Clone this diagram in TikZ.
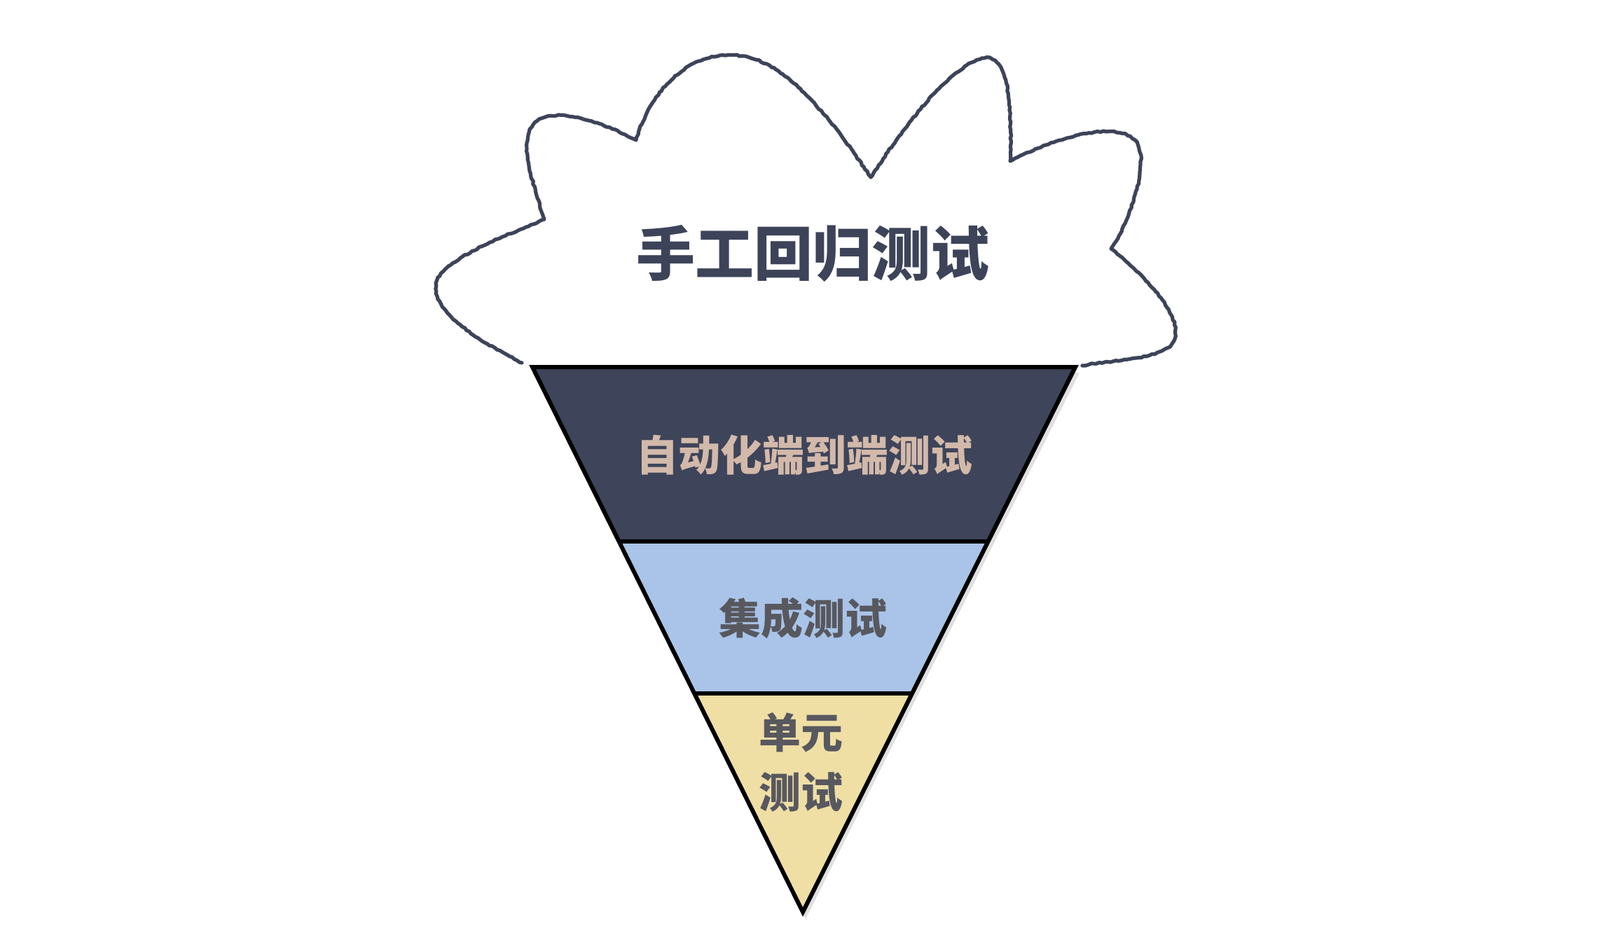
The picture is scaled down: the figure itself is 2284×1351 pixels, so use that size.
\documentclass[tikz,border=0pt]{standalone}
\usepackage{fontspec}
\newfontfamily\cjk{Noto Sans CJK SC}
\usetikzlibrary{calc,decorations.pathmorphing}
\definecolor{inkdark}{HTML}{3D4459}
\definecolor{bandtop}{HTML}{3E4459}
\definecolor{bandmid}{HTML}{A9C4E8}
\definecolor{bandlow}{HTML}{EFDFA5}
\definecolor{tantext}{HTML}{D2B9AA}
\definecolor{graytext}{HTML}{58585F}
\begin{document}
\begin{tikzpicture}[x=0.5pt,y=-0.5pt,
  cloudline/.style={draw=inkdark,line width=2.6pt,line cap=round,line join=round,
    decoration={random steps,segment length=2pt,amplitude=0.45pt},decorate},
  coneline/.style={draw=black,line width=3pt,line join=miter},
  bandlabel/.style={font=\cjk\bfseries\fontsize{30pt}{42.5pt}\selectfont,align=center,inner sep=0pt}]
\useasboundingbox (0,0) rectangle (2284,1351);
% cloud
\coordinate (cl) at (745,518);
\coordinate (cr) at (1545,522);
\draw[cloudline] (cl)
  .. controls (650,470) and (590,420) .. (640,380)
  .. controls (680,350) and (740,330) .. (777,313)
  .. controls (760,260) and (735,190) .. (770,170)
  .. controls (800,155) and (860,175) .. (908,200)
  .. controls (935,110) and (1000,70) .. (1060,80)
  .. controls (1130,90) and (1200,190) .. (1243,253)
  .. controls (1290,180) and (1360,90) .. (1405,83)
  .. controls (1440,78) and (1445,150) .. (1442,230)
  .. controls (1500,200) and (1590,170) .. (1620,200)
  .. controls (1645,230) and (1610,320) .. (1586,355)
  .. controls (1640,400) and (1700,460) .. (1670,495)
  .. controls (1640,515) and (1580,515) .. (cr);
\node[font=\cjk\bfseries\fontsize{42pt}{50pt}\selectfont,text=inkdark,inner sep=0pt] (title) at (1160,362) {手工回归测试};
% cone
\coordinate (tl) at (760,524);
\coordinate (tr) at (1535,524);
\coordinate (tip) at (1146,1302);
\coordinate (l1) at ($(tl)!0.32!(tip)$);
\coordinate (r1) at ($(tr)!0.32!(tip)$);
\coordinate (l2) at ($(tl)!0.599!(tip)$);
\coordinate (r2) at ($(tr)!0.599!(tip)$);
\fill[black,opacity=0.12] ($(tl)+(6,8)$) -- ($(tr)+(6,8)$) -- ($(tip)+(4,10)$) -- cycle;
\fill[bandtop] (tl) -- (tr) -- (r1) -- (l1) -- cycle;
\fill[bandmid] (l1) -- (r1) -- (r2) -- (l2) -- cycle;
\fill[bandlow] (l2) -- (r2) -- (tip) -- cycle;
\draw[coneline] (l1) -- (r1);
\draw[coneline] (l2) -- (r2);
\draw[coneline] (tl) -- (tr) -- (tip) -- cycle;
\node[bandlabel,text=tantext] (e2e) at (1148,650) {自动化端到端测试};
\node[bandlabel,text=graytext] (integ) at (1146,883) {集成测试};
\node[bandlabel,text=graytext] (unit) at (1143,1088) {单元\\测试};
\end{tikzpicture}
\end{document}
